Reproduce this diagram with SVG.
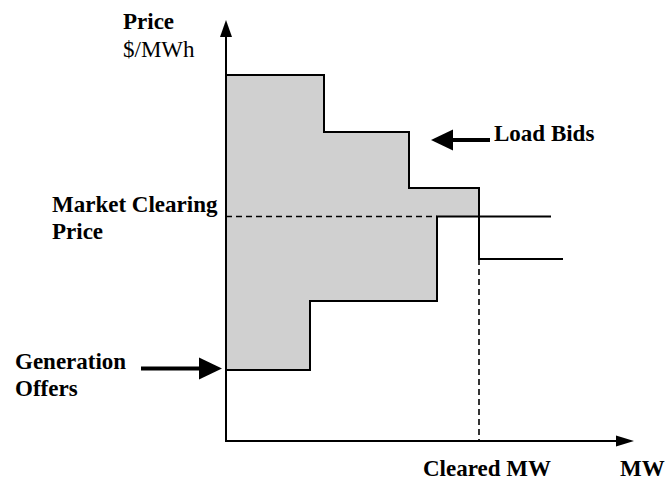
<svg xmlns="http://www.w3.org/2000/svg" width="666" height="481" viewBox="0 0 666 481">
  <style>
    .lbl { font-family: "Liberation Serif", "Times New Roman", serif; font-size: 23px; fill: #000; }
    .b { font-weight: bold; }
    .step { fill: none; stroke: #000; stroke-width: 2; }
    .dash { fill: none; stroke: #000; stroke-width: 1.6; stroke-dasharray: 6 4; }
    .axis { fill: none; stroke: #000; stroke-width: 2; }
    .pointer { stroke: #000; stroke-width: 4; }
  </style>

  <rect width="666" height="481" fill="#fff"/>

  <!-- surplus area between the two step curves -->
  <g id="surplus-area">
    <polygon points="226,75 324,75 324,132 409,132 409,188 479,188 479,216.5 437,216.5 437,301 310,301 310,370 226,370" fill="#d0d0d0"/>
  </g>

  <!-- clearing guide lines -->
  <g id="clearing-guides">
    <path class="dash" d="M226,216.5 H437"/>
    <path class="dash" d="M479,259 V441"/>
  </g>

  <!-- load bid curve (descending steps) -->
  <g id="load-bids-curve">
    <path class="step" d="M226,75 H324 V132 H409 V188 H479 V259 H563"/>
  </g>

  <!-- generation offer curve (ascending steps) -->
  <g id="generation-offers-curve">
    <path class="step" d="M226,370 H310 V301 H437 V216.5 H551"/>
  </g>

  <!-- axes -->
  <g id="axes">
    <path class="axis" d="M226,441 V36"/>
    <polygon points="226,20 220,37 232,37" fill="#000"/>
    <path class="axis" d="M225,441 H617"/>
    <polygon points="634,441 616,435.5 616,446.5" fill="#000"/>
  </g>

  <!-- label pointers -->
  <g id="connectors">
    <line class="pointer" x1="452" y1="140" x2="490" y2="140"/>
    <polygon points="431,140 453,129.5 453,150.5" fill="#000"/>
    <line class="pointer" x1="141" y1="368.5" x2="200" y2="368.5"/>
    <polygon points="222,368.5 199,357.5 199,379.5" fill="#000"/>
  </g>

  <g id="label-price-axis">
    <text class="lbl b" x="123" y="29">Price</text>
    <text class="lbl" x="123" y="57">$/MWh</text>
  </g>
  <g id="label-load-bids">
    <text class="lbl b" x="494" y="141">Load Bids</text>
  </g>
  <g id="label-clearing-price">
    <text class="lbl b" x="52" y="212">Market Clearing</text>
    <text class="lbl b" x="52" y="239">Price</text>
  </g>
  <g id="label-generation-offers">
    <text class="lbl b" x="15" y="369">Generation</text>
    <text class="lbl b" x="15" y="396">Offers</text>
  </g>
  <g id="label-cleared-mw">
    <text class="lbl b" x="423" y="476">Cleared MW</text>
  </g>
  <g id="label-mw-axis">
    <text class="lbl b" x="620" y="476">MW</text>
  </g>
</svg>
